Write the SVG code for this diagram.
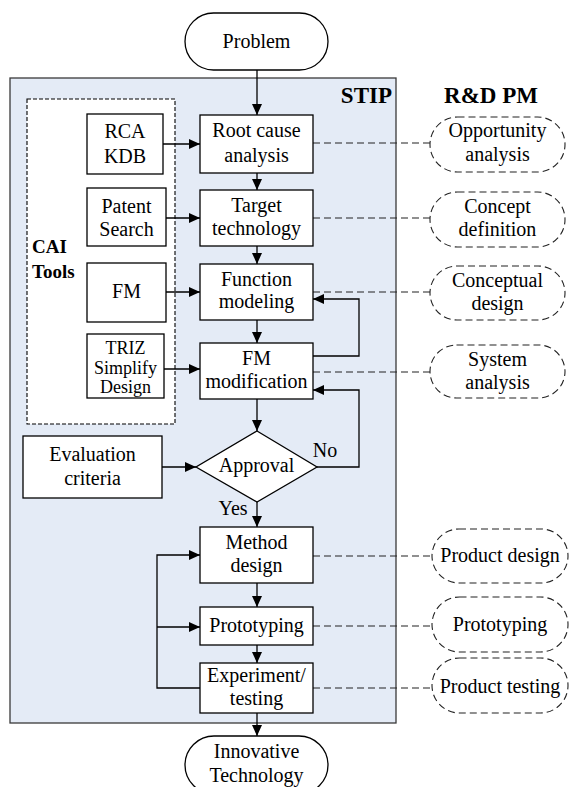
<svg xmlns="http://www.w3.org/2000/svg" width="570" height="787" viewBox="0 0 570 787" font-family="'Liberation Serif', serif">
<defs>
<marker id="ah" markerUnits="userSpaceOnUse" markerWidth="12" markerHeight="10" refX="11" refY="5" orient="auto">
<path d="M0,0 L11,5 L0,10 Z" fill="#000"/>
</marker>
<style>
text{font-family:'Liberation Serif',serif;font-size:20px;fill:#000;text-anchor:middle}
.b{font-weight:bold}
.s18{font-size:18px}
.box{fill:#fff;stroke:#000;stroke-width:1.3}
.term{fill:#fff;stroke:#000;stroke-width:1.3}
.pm{fill:#fff;stroke:#222;stroke-width:1.1;stroke-dasharray:7 4}
.arr{fill:none;stroke:#000;stroke-width:1.3;marker-end:url(#ah)}
.dl{fill:none;stroke:#222;stroke-width:1.2;stroke-dasharray:7 4}
</style>
</defs>
<rect id="stip-frame" x="10" y="78" width="386" height="645" fill="#E4EBF6" stroke="#3a3a3a" stroke-width="1.3"/>
<text class="b" x="392" y="103" style="font-size:23px;text-anchor:end">STIP</text>
<text class="b" x="491" y="103" style="font-size:23px">R&amp;D PM</text>
<rect id="cai-frame" x="27" y="99" width="148" height="325" fill="#fff" stroke="#000" stroke-width="1.1" stroke-dasharray="4 2"/>
<text class="b" x="32" y="253" style="font-size:19px;text-anchor:start">CAI</text>
<text class="b" x="32" y="278" style="font-size:19px;text-anchor:start">Tools</text>

<g id="connectors">
<line class="arr" x1="257" y1="70" x2="257" y2="115"/>
<line class="arr" x1="163" y1="144" x2="200" y2="144"/>
<line class="arr" x1="257" y1="173" x2="257" y2="190"/>
<line class="arr" x1="166" y1="218" x2="200" y2="218"/>
<line class="arr" x1="257" y1="246" x2="257" y2="264"/>
<line class="arr" x1="166" y1="292" x2="200" y2="292"/>
<line class="arr" x1="257" y1="320" x2="257" y2="343"/>
<line class="arr" x1="164" y1="369" x2="200" y2="369"/>
<line class="arr" x1="257" y1="399" x2="257" y2="431"/>
<polyline class="arr" points="313,356 359,356 359,299 313,299"/>
<polyline class="arr" points="317,467 359,467 359,390 313,390"/>
<line class="arr" x1="162" y1="467" x2="196" y2="467"/>
<line class="arr" x1="257" y1="502" x2="257" y2="527"/>
<line class="arr" x1="257" y1="583" x2="257" y2="607"/>
<line class="arr" x1="257" y1="645" x2="257" y2="663"/>
<polyline class="arr" points="200,688 157,688 157,555 200,555"/>
<line class="arr" x1="157" y1="627" x2="200" y2="627"/>
<line class="arr" x1="257" y1="713" x2="257" y2="736"/>
<line class="dl" x1="313" y1="143" x2="430" y2="143"/>
<line class="dl" x1="313" y1="218" x2="430" y2="218"/>
<line class="dl" x1="313" y1="292" x2="430" y2="292"/>
<line class="dl" x1="313" y1="372" x2="430" y2="372"/>
<line class="dl" x1="313" y1="556" x2="432" y2="556"/>
<line class="dl" x1="313" y1="626" x2="432" y2="626"/>
<line class="dl" x1="313" y1="688" x2="432" y2="688"/>
</g>
<text x="325" y="457">No</text>
<text x="233" y="515">Yes</text>

<g id="problem"><rect class="term" x="185" y="13" width="143" height="57" rx="28.5"/><text x="256.5" y="48">Problem</text></g>
<g id="rca-kdb"><rect class="box" x="87" y="114" width="76" height="60"/><text x="125" y="138">RCA</text><text x="125" y="163">KDB</text></g>
<g id="patent-search"><rect class="box" x="87" y="188" width="79" height="58"/><text x="126.5" y="213">Patent</text><text x="126.5" y="236">Search</text></g>
<g id="fm"><rect class="box" x="87" y="263" width="79" height="59"/><text x="126.5" y="298">FM</text></g>
<g id="triz"><rect class="box" x="87" y="334" width="77" height="64"/><text class="s18" x="125.5" y="354">TRIZ</text><text class="s18" x="125.5" y="374">Simplify</text><text class="s18" x="125.5" y="393">Design</text></g>
<g id="root-cause"><rect class="box" x="200" y="115" width="113" height="58"/><text x="256.5" y="137">Root cause</text><text x="256.5" y="162">analysis</text></g>
<g id="target-tech"><rect class="box" x="200" y="190" width="113" height="56"/><text x="256.5" y="212">Target</text><text x="256.5" y="235">technology</text></g>
<g id="function-modeling"><rect class="box" x="200" y="264" width="113" height="56"/><text x="256.5" y="286">Function</text><text x="256.5" y="308">modeling</text></g>
<g id="fm-modification"><rect class="box" x="200" y="343" width="113" height="56"/><text x="256.5" y="365">FM</text><text x="256.5" y="388">modification</text></g>
<g id="evaluation"><rect class="box" x="23" y="436" width="139" height="62"/><text x="92.5" y="461">Evaluation</text><text x="92.5" y="485">criteria</text></g>
<g id="approval"><polygon class="box" points="257,431 317,467 257,502 196,467"/><text x="256.5" y="472">Approval</text></g>
<g id="method-design"><rect class="box" x="200" y="527" width="113" height="56"/><text x="256.5" y="549">Method</text><text x="256.5" y="572">design</text></g>
<g id="prototyping"><rect class="box" x="200" y="607" width="113" height="38"/><text x="256.5" y="632">Prototyping</text></g>
<g id="experiment"><rect class="box" x="200" y="663" width="113" height="50"/><text x="256.5" y="682">Experiment/</text><text x="256.5" y="705">testing</text></g>
<g id="innovative"><rect class="term" x="185" y="736" width="143" height="58" rx="29"/><text x="256.5" y="758">Innovative</text><text x="256.5" y="782">Technology</text></g>

<g id="opportunity"><rect class="pm" x="430" y="117" width="135" height="55" rx="27.5"/><text x="497.5" y="137">Opportunity</text><text x="497.5" y="161">analysis</text></g>
<g id="concept-def"><rect class="pm" x="430" y="192" width="135" height="55" rx="27.5"/><text x="497.5" y="213">Concept</text><text x="497.5" y="236">definition</text></g>
<g id="conceptual-design"><rect class="pm" x="430" y="266" width="135" height="54" rx="27"/><text x="497.5" y="287">Conceptual</text><text x="497.5" y="310">design</text></g>
<g id="system-analysis"><rect class="pm" x="430" y="345" width="135" height="53" rx="26.5"/><text x="497.5" y="366">System</text><text x="497.5" y="389">analysis</text></g>
<g id="product-design"><rect class="pm" x="432" y="529" width="136" height="54" rx="27"/><text x="500" y="562">Product design</text></g>
<g id="prototyping-pm"><rect class="pm" x="432" y="597" width="136" height="55" rx="27.5"/><text x="500" y="631">Prototyping</text></g>
<g id="product-testing"><rect class="pm" x="432" y="658" width="136" height="55" rx="27.5"/><text x="500" y="693">Product testing</text></g>
</svg>
